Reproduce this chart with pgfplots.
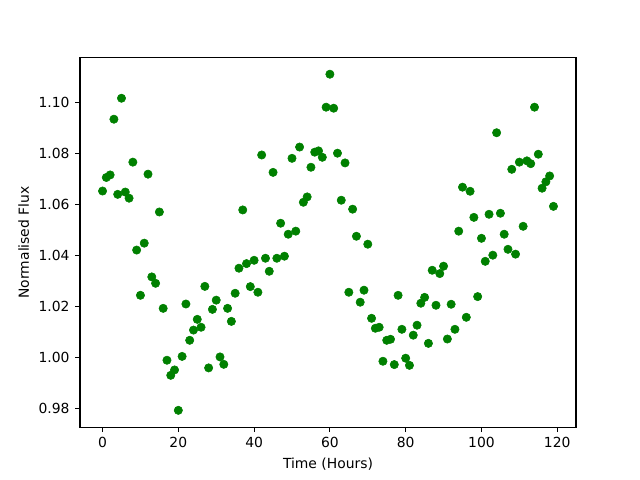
\documentclass[border=0pt]{standalone}
\usepackage{fontspec}
\setmainfont{DejaVu Sans}
\usepackage{pgfplots}
\pgfplotsset{compat=1.18}
\begin{document}
\fontsize{10bp}{12bp}\selectfont
\begin{tikzpicture}
\path[use as bounding box] (-57.6bp,-38.016bp) rectangle (403.2bp,307.584bp);
\begin{axis}[
  at={(0,0)}, anchor=south west,
  scale only axis, width=357.12bp, height=266.11bp,
  xmin=-5.95, xmax=124.95, ymin=0.9728, ymax=1.1174,
  xtick={0,20,40,60,80,100,120},
  ytick={0.98,1.00,1.02,1.04,1.06,1.08,1.10},
  yticklabel style={xshift=-0.5bp, /pgf/number format/.cd, fixed, fixed zerofill, precision=2},
  /pgf/number format/assume math mode=true,
  tick align=outside, major tick length=3.5bp,
  tick style={line width=0.8bp, black},
  axis line style={line width=0.8bp},
  xtick pos=bottom, ytick pos=left,
  xlabel={Time (Hours)}, ylabel={Normalised Flux},
  tick label style={font=\fontsize{10bp}{12bp}\selectfont},
  label style={font=\fontsize{10bp}{12bp}\selectfont},
  xticklabel style={yshift=-0.5bp},
]
\addplot[only marks, mark=*, mark size=3bp, color={rgb,255:red,0;green,128;blue,0}] table {
x y
0 1.0652
1 1.0705
2 1.0715
3 1.0933
4 1.0639
5 1.1015
6 1.0648
7 1.0624
8 1.0765
9 1.0421
10 1.0244
11 1.0448
12 1.0718
13 1.0316
14 1.0291
15 1.0570
16 1.0193
17 0.9990
18 0.9931
19 0.9952
20 0.9794
21 1.0005
22 1.0210
23 1.0068
24 1.0108
25 1.0150
26 1.0119
27 1.0279
28 0.9960
29 1.0189
30 1.0225
31 1.0003
32 0.9974
33 1.0193
34 1.0142
35 1.0252
36 1.0350
37 1.0578
38 1.0368
39 1.0278
40 1.0381
41 1.0256
42 1.0793
43 1.0389
44 1.0338
45 1.0725
46 1.0389
47 1.0526
48 1.0397
49 1.0483
50 1.0780
51 1.0495
52 1.0824
53 1.0608
54 1.0629
55 1.0745
56 1.0804
57 1.0809
58 1.0784
59 1.0980
60 1.1109
61 1.0976
62 1.0800
63 1.0616
64 1.0762
65 1.0256
66 1.0581
67 1.0475
68 1.0217
69 1.0264
70 1.0444
71 1.0154
72 1.0115
73 1.0119
74 0.9986
75 1.0068
76 1.0072
77 0.9973
78 1.0244
79 1.0111
80 0.9998
81 0.9970
82 1.0088
83 1.0127
84 1.0213
85 1.0236
86 1.0056
87 1.0342
88 1.0205
89 1.0329
90 1.0358
91 1.0073
92 1.0209
93 1.0111
94 1.0495
95 1.0667
96 1.0158
97 1.0651
98 1.0549
99 1.0239
100 1.0467
101 1.0377
102 1.0561
103 1.0401
104 1.0880
105 1.0565
106 1.0483
107 1.0424
108 1.0737
109 1.0405
110 1.0765
111 1.0514
112 1.0770
113 1.0759
114 1.0980
115 1.0796
116 1.0663
117 1.0688
118 1.0711
119 1.0592
};
\end{axis}
\end{tikzpicture}
\end{document}
